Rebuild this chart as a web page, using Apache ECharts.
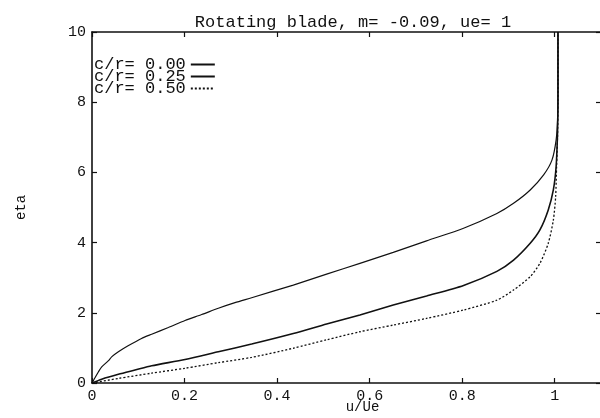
<!DOCTYPE html>
<html>
<head>
<meta charset="utf-8">
<script src="https://cdn.jsdelivr.net/npm/echarts@6/dist/echarts.min.js"></script>
<style>
  html, body { margin: 0; padding: 0; background: #fff; }
  #chart { width: 600px; height: 418px; }
</style>
</head>
<body>
<div id="chart"></div>
<script>
// Boundary-layer velocity profiles on a rotating blade, m = -0.09, ue = 1
const titleText = 'Rotating blade, m= -0.09, ue= 1';
const seriesNames = ['c/r= 0.00', 'c/r= 0.25', 'c/r= 0.50'];

// c/r = 0.00
const u0   = [0, 0.014, 0.021, 0.035, 0.043, 0.057, 0.078, 0.107, 0.129, 0.165, 0.201, 0.237, 0.273, 0.309, 0.345, 0.435, 0.507, 0.579, 0.651, 0.723, 0.803, 0.875, 0.911, 0.947, 0.976, 0.994, 1.003, 1.006, 1.007, 1.007];
const eta0 = [0, 0.32, 0.46, 0.63, 0.75, 0.89, 1.06, 1.27, 1.39, 1.58, 1.78, 1.95, 2.13, 2.29, 2.43, 2.79, 3.10, 3.41, 3.72, 4.05, 4.41, 4.83, 5.12, 5.50, 5.93, 6.35, 6.92, 7.49, 8.5, 10];

// c/r = 0.25
const u1   = [0, 0.021, 0.057, 0.093, 0.129, 0.201, 0.273, 0.345, 0.435, 0.507, 0.579, 0.651, 0.723, 0.803, 0.875, 0.911, 0.947, 0.968, 0.986, 0.997, 1.003, 1.006, 1.007, 1.007];
const eta1 = [0, 0.11, 0.25, 0.37, 0.49, 0.67, 0.89, 1.11, 1.41, 1.68, 1.94, 2.22, 2.48, 2.78, 3.18, 3.50, 3.98, 4.36, 4.93, 5.50, 6.16, 7.11, 8.0, 10];

// c/r = 0.50
const u2   = [0, 0.057, 0.129, 0.201, 0.273, 0.345, 0.435, 0.507, 0.579, 0.651, 0.723, 0.803, 0.875, 0.911, 0.947, 0.968, 0.986, 0.997, 1.002, 1.004, 1.006, 1.007, 1.007];
const eta2 = [0, 0.13, 0.28, 0.42, 0.58, 0.73, 0.99, 1.23, 1.46, 1.65, 1.84, 2.08, 2.36, 2.65, 3.03, 3.41, 3.98, 4.64, 5.31, 6.16, 7.0, 8.0, 10];

const xTicks = [0, 0.2, 0.4, 0.6, 0.8, 1];
const yTicks = [0, 2, 4, 6, 8, 10];

const pairs = (xs, ys) => xs.map((x, i) => [x, ys[i]]);
const mono = '"Liberation Mono", "DejaVu Sans Mono", monospace';
const ink = '#111';

// every side of the frame: a line with short inward ticks
const frameAxis = () => ({
  axisLine: { show: true, onZero: false, lineStyle: { color: ink, width: 1.6 } },
  axisTick: { show: true, inside: true, length: 5, lineStyle: { color: ink, width: 1.2 } },
  splitLine: { show: false }
});

const chart = echarts.init(document.getElementById('chart'), null, { renderer: 'canvas' });
chart.setOption({
  animation: false,
  backgroundColor: '#fff',
  title: {
    text: titleText,
    left: 348, top: 9, textAlign: 'center',
    textStyle: { fontFamily: mono, fontSize: 17, fontWeight: 'normal', color: ink }
  },
  legend: {
    orient: 'vertical',
    left: 89, top: 51,
    align: 'right',
    itemWidth: 24, itemHeight: 10, itemGap: -5,
    data: seriesNames,
    itemStyle: { color: 'transparent', borderWidth: 0 },
    textStyle: { fontFamily: mono, fontSize: 17, color: ink, padding: 0 }
  },
  grid: {
    left: 92, top: 32, width: 509, height: 351,
    outerBoundsMode: 'none', containLabel: false
  },
  xAxis: [
    Object.assign({
      type: 'value', min: 0, max: 1.1, interval: 0.2, position: 'bottom',
      name: 'u/Ue', nameLocation: 'middle', nameGap: 17, nameMoveOverlap: false,
      nameTextStyle: { fontFamily: mono, fontSize: 14, color: ink, padding: [0, 0, 0, 32] },
      axisLabel: {
        show: true, showMaxLabel: false, margin: 6, color: ink,
        fontFamily: mono, fontSize: 15,
        formatter: v => (xTicks.indexOf(Math.round(v * 10) / 10) >= 0 ? String(Math.round(v * 10) / 10) : '')
      }
    }, frameAxis()),
    Object.assign({
      type: 'value', min: 0, max: 1.1, interval: 0.2, position: 'top',
      axisLabel: { show: false }
    }, frameAxis())
  ],
  yAxis: [
    Object.assign({
      type: 'value', min: 0, max: 10, interval: 2, position: 'left',
      name: 'eta', nameLocation: 'middle', nameGap: 64, nameRotate: 90, nameMoveOverlap: false,
      nameTextStyle: { fontFamily: mono, fontSize: 14, color: ink },
      axisLabel: {
        show: true, margin: 6, color: ink, fontFamily: mono, fontSize: 15,
        formatter: v => (yTicks.indexOf(v) >= 0 ? String(v) : '')
      }
    }, frameAxis()),
    Object.assign({
      type: 'value', min: 0, max: 10, interval: 2, position: 'right',
      axisLabel: { show: false }
    }, frameAxis())
  ],
  series: [
    {
      name: seriesNames[0], type: 'line', symbol: 'none', smooth: 0.25,
      data: pairs(u0, eta0),
      lineStyle: { color: ink, width: 1.2, type: 'solid' },
      itemStyle: { color: ink }
    },
    {
      name: seriesNames[1], type: 'line', symbol: 'none', smooth: 0.25,
      data: pairs(u1, eta1),
      lineStyle: { color: ink, width: 1.6, type: 'solid' },
      itemStyle: { color: ink }
    },
    {
      name: seriesNames[2], type: 'line', symbol: 'none', smooth: 0.25,
      data: pairs(u2, eta2),
      lineStyle: { color: ink, width: 1.3, type: [2, 2] },
      itemStyle: { color: ink }
    }
  ]
});
</script>
</body>
</html>
